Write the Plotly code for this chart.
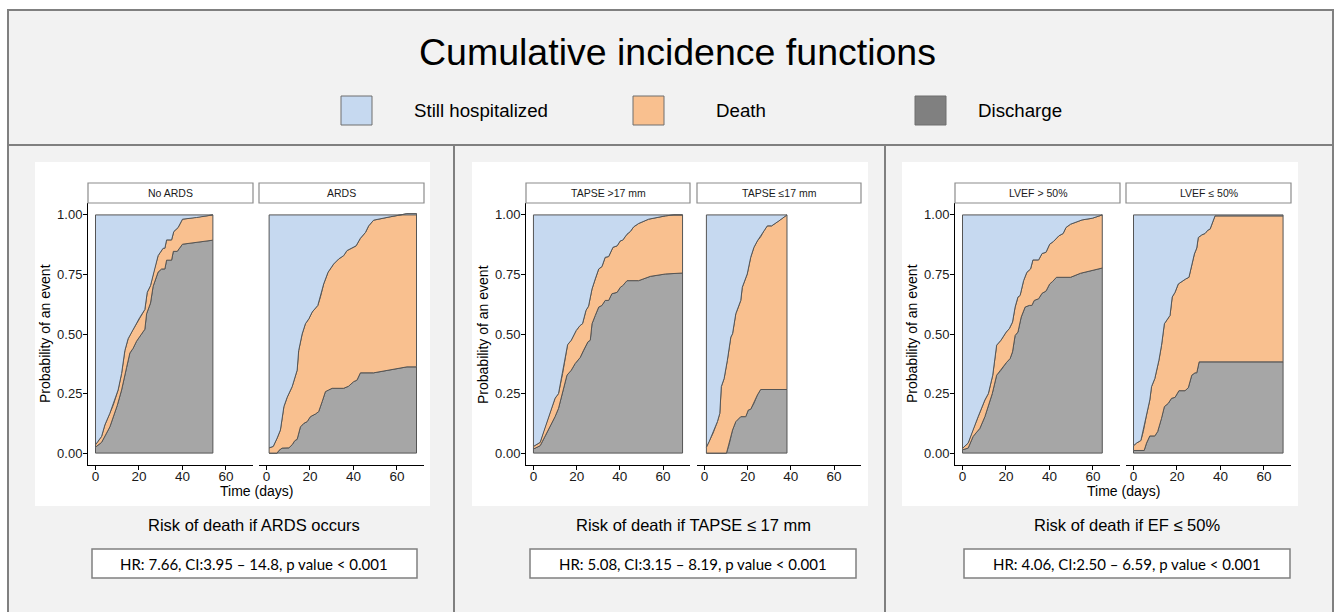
import plotly.graph_objects as go

W, H = 1335, 612

# ---------------- data ----------------
facet_labels = ["No ARDS", "ARDS", "TAPSE >17 mm", "TAPSE \u226417 mm", "LVEF > 50%", "LVEF \u2264 50%"]
x_ticks = [0, 20, 40, 60]
y_ticks = [0, 0.25, 0.5, 0.75, 1.0]
y_tick_text = ["0.00", "0.25", "0.50", "0.75", "1.00"]
legend_names = ["Still hospitalized", "Death", "Discharge"]
panel_titles = ["Risk of death if ARDS occurs", "Risk of death if TAPSE \u2264 17 mm", "Risk of death if EF \u2264 50%"]
hr_texts = ["HR: 7.66, CI:3.95 \u2013 14.8, p value < 0.001",
            "HR: 5.08, CI:3.15 \u2013 8.19, p value < 0.001",
            "HR: 4.06, CI:2.50 \u2013 6.59, p value < 0.001"]

# cumulative discharge (dis) and discharge + death (tot) per facet
noards_dis_t = [0, 2.8, 6.6, 10, 12, 14.3, 15.8, 17.3, 18.9, 20.4, 22.7, 23.5, 25.3, 26.5, 28.8, 30.4, 31.9, 32.7, 35, 35.8, 37.6, 40, 54]
noards_dis_y = [0.025, 0.045, 0.11, 0.2, 0.265, 0.36, 0.42, 0.44, 0.47, 0.49, 0.52, 0.585, 0.63, 0.70, 0.76, 0.773, 0.773, 0.81, 0.81, 0.847, 0.847, 0.877, 0.894]
noards_tot_t = [0, 1.2, 2.8, 4.3, 6.6, 8.1, 10.4, 12, 13.5, 15, 16.6, 18.6, 20.4, 22.7, 23.8, 25.3, 26.9, 28.8, 31.1, 31.9, 32.7, 35, 36, 38, 40, 46.5, 54]
noards_tot_y = [0.035, 0.05, 0.07, 0.118, 0.167, 0.2, 0.265, 0.334, 0.43, 0.48, 0.508, 0.54, 0.57, 0.603, 0.675, 0.703, 0.766, 0.829, 0.86, 0.86, 0.895, 0.895, 0.93, 0.947, 0.982, 0.989, 1.0]

ards_dis_t = [1.2, 4.9, 5.7, 7.2, 10.3, 11.8, 13, 14.1, 15.6, 17.2, 18.7, 20.2, 22.5, 24, 25.6, 27.1, 28.6, 30.2, 35.5, 37.8, 40.1, 41.6, 43.2, 49.3, 64.6, 69]
ards_dis_y = [0, 0, 0.011, 0.021, 0.022, 0.035, 0.052, 0.058, 0.11, 0.125, 0.132, 0.153, 0.164, 0.174, 0.216, 0.258, 0.265, 0.272, 0.272, 0.281, 0.30, 0.306, 0.337, 0.337, 0.362, 0.362]
ards_tot_t = [1.2, 3.1, 4.9, 6.4, 8, 9.5, 11.8, 14.1, 14.8, 16.4, 17.9, 19.5, 21, 23.6, 24.8, 26.3, 28.3, 30.9, 33.2, 35.5, 37, 39.3, 41.2, 43.2, 45.5, 47, 49.3, 56.9, 64.6, 69]
ards_tot_y = [0.022, 0.028, 0.063, 0.097, 0.195, 0.234, 0.279, 0.348, 0.43, 0.5, 0.543, 0.564, 0.592, 0.62, 0.655, 0.71, 0.759, 0.794, 0.815, 0.829, 0.85, 0.861, 0.87, 0.902, 0.926, 0.954, 0.978, 0.992, 1.005, 1.005]

tapse_hi_dis_t = [0, 3.1, 5.4, 7.7, 10, 11.6, 13.5, 15.5, 17.5, 19.3, 21.6, 23.2, 25.2, 26.3, 27.1, 28.6, 30.2, 31.7, 33.2, 34.8, 36.3, 38.7, 40.2, 41.3, 43.3, 48.7, 54.1, 61.1, 69]
tapse_hi_dis_y = [0.017, 0.031, 0.07, 0.111, 0.153, 0.188, 0.25, 0.327, 0.348, 0.376, 0.401, 0.432, 0.467, 0.474, 0.543, 0.578, 0.613, 0.62, 0.641, 0.641, 0.669, 0.675, 0.696, 0.703, 0.724, 0.724, 0.742, 0.752, 0.756]
tapse_hi_tot_t = [0, 3.1, 4.6, 7, 10, 11.6, 13.5, 15.8, 17.5, 19.8, 21.6, 22.7, 24.3, 25.5, 27.1, 28.6, 30.2, 31.7, 33.2, 34.8, 36.8, 38.7, 40.2, 41.3, 43.3, 44.8, 46.4, 48.7, 53.3, 61.1, 65, 69]
tapse_hi_tot_y = [0.028, 0.045, 0.09, 0.153, 0.23, 0.25, 0.334, 0.455, 0.474, 0.515, 0.536, 0.543, 0.599, 0.617, 0.689, 0.731, 0.773, 0.783, 0.822, 0.825, 0.864, 0.87, 0.891, 0.894, 0.919, 0.93, 0.95, 0.964, 0.982, 0.996, 1.0, 1.0]

tapse_lo_dis_t = [0.9, 10.2, 11.4, 13, 14.5, 16.8, 19.1, 20.3, 21.4, 22.9, 24.5, 26, 38.2]
tapse_lo_dis_y = [0, 0, 0.035, 0.097, 0.132, 0.153, 0.153, 0.181, 0.184, 0.209, 0.244, 0.267, 0.267]
tapse_lo_tot_t = [0.9, 2.2, 4, 6, 7.1, 7.8, 9.1, 10.6, 12.2, 13, 14.5, 15.7, 16.8, 17.5, 18.3, 19.8, 21.4, 22.9, 24.5, 26, 27.5, 29.1, 31.1, 34.5, 38.2]
tapse_lo_tot_y = [0.025, 0.049, 0.084, 0.132, 0.167, 0.279, 0.313, 0.39, 0.487, 0.501, 0.585, 0.613, 0.641, 0.696, 0.717, 0.752, 0.822, 0.864, 0.891, 0.908, 0.933, 0.954, 0.954, 0.975, 1.0]

lvef_hi_dis_t = [0, 2.6, 4.9, 8, 10.3, 11.9, 13.7, 15.7, 17.7, 20.1, 21.9, 23, 24.2, 25.5, 27, 28.8, 30.7, 31.9, 33, 35, 36.6, 38.4, 40.1, 41.5, 43.2, 49.7, 54.3, 64.3]
lvef_hi_dis_y = [0.014, 0.021, 0.07, 0.104, 0.153, 0.195, 0.25, 0.327, 0.348, 0.379, 0.397, 0.425, 0.494, 0.508, 0.571, 0.613, 0.62, 0.62, 0.641, 0.648, 0.671, 0.68, 0.71, 0.721, 0.738, 0.738, 0.755, 0.777]
lvef_hi_tot_t = [0, 2.6, 4.2, 7.2, 10.3, 11.9, 13.9, 15.7, 17.7, 20.1, 21.5, 23, 24.2, 25.5, 26.5, 28.1, 29.6, 31.3, 32.4, 35, 36.6, 38.4, 40.1, 41.9, 44.3, 46.3, 47.6, 49.7, 55, 59.7, 64.3]
lvef_hi_tot_y = [0.02, 0.042, 0.084, 0.153, 0.223, 0.25, 0.327, 0.453, 0.474, 0.508, 0.522, 0.55, 0.613, 0.655, 0.662, 0.724, 0.759, 0.773, 0.811, 0.811, 0.838, 0.843, 0.877, 0.889, 0.912, 0.922, 0.947, 0.961, 0.979, 0.986, 1.0]

lvef_lo_dis_t = [0, 4.9, 6, 7.5, 9.8, 11.1, 12.2, 12.9, 14.2, 16, 17.5, 19.1, 20.9, 23.7, 25.2, 26.8, 28.3, 29.1, 30.2, 68.8]
lvef_lo_dis_y = [0.011, 0.011, 0.042, 0.072, 0.072, 0.09, 0.125, 0.146, 0.195, 0.209, 0.23, 0.234, 0.262, 0.262, 0.274, 0.327, 0.337, 0.337, 0.383, 0.383]
lvef_lo_tot_t = [0, 1.4, 3.4, 4.5, 6, 7.5, 8.3, 9.8, 11.7, 12.9, 14.2, 15.2, 16.8, 17.8, 19.1, 20.6, 22.2, 24, 25.5, 26.5, 28, 29.1, 29.8, 31.4, 32.9, 34.2, 35.2, 37.5, 68.8]
lvef_lo_tot_y = [0.031, 0.042, 0.053, 0.09, 0.16, 0.223, 0.279, 0.313, 0.39, 0.453, 0.543, 0.557, 0.578, 0.655, 0.675, 0.71, 0.721, 0.731, 0.738, 0.78, 0.836, 0.861, 0.905, 0.916, 0.922, 0.936, 0.94, 0.996, 0.996]

facets = [
    (noards_dis_t, noards_dis_y, noards_tot_t, noards_tot_y),
    (ards_dis_t, ards_dis_y, ards_tot_t, ards_tot_y),
    (tapse_hi_dis_t, tapse_hi_dis_y, tapse_hi_tot_t, tapse_hi_tot_y),
    (tapse_lo_dis_t, tapse_lo_dis_y, tapse_lo_tot_t, tapse_lo_tot_y),
    (lvef_hi_dis_t, lvef_hi_dis_y, lvef_hi_tot_t, lvef_hi_tot_y),
    (lvef_lo_dis_t, lvef_lo_dis_y, lvef_lo_tot_t, lvef_lo_tot_y),
]

# ---------------- style ----------------
C_HOSP = "#C6D9F0"
C_DEATH = "#F9C08F"
C_DIS = "#A6A6A6"
C_DIS_KEY = "#808080"
C_EDGE = "#555555"
C_FRAME = "#808080"
FONT = "Liberation Sans, Arial, sans-serif"


def px(x):
    return x / W


def py(y):
    return 1 - y / H


x_domains_px = [(88, 253), (259, 424), (526, 690), (697, 861), (955, 1120), (1126, 1291)]
y_domain_px = (203, 465)

fig = go.Figure()

for i, (dt, dy, tt, ty) in enumerate(facets):
    ax = "" if i == 0 else str(i + 1)
    xr, yr = "x" + ax, "y" + ax
    # discharge
    fig.add_trace(go.Scatter(
        x=list(dt) + [dt[-1], dt[0], dt[0]], y=list(dy) + [0, 0, dy[0]],
        fill="toself", fillcolor=C_DIS, mode="lines",
        line=dict(color=C_EDGE, width=1), hoverinfo="skip", showlegend=False,
        xaxis=xr, yaxis=yr))
    # death (stacked on discharge)
    fig.add_trace(go.Scatter(
        x=list(tt) + [dt[-1]] + list(dt[::-1]) + [tt[0]],
        y=list(ty) + [dy[-1]] + list(dy[::-1]) + [ty[0]],
        fill="toself", fillcolor=C_DEATH, mode="lines",
        line=dict(color=C_EDGE, width=1), hoverinfo="skip", showlegend=False,
        xaxis=xr, yaxis=yr))
    # still hospitalized (remaining up to 1)
    fig.add_trace(go.Scatter(
        x=[tt[0], tt[-1]] + list(tt[::-1]) + [tt[0]],
        y=[1, 1] + list(ty[::-1]) + [1],
        fill="toself", fillcolor=C_HOSP, mode="lines",
        line=dict(color=C_EDGE, width=1), hoverinfo="skip", showlegend=False,
        xaxis=xr, yaxis=yr))

layout = dict(
    width=W, height=H, margin=dict(l=0, r=0, t=0, b=0),
    paper_bgcolor="white", plot_bgcolor="rgba(0,0,0,0)",
    showlegend=False, font=dict(family=FONT, color="#1a1a1a"),
)

for i, (x0, x1) in enumerate(x_domains_px):
    key = "" if i == 0 else str(i + 1)
    first = (i % 2 == 0)
    layout["xaxis" + key] = dict(
        domain=[px(x0), px(x1)], range=[-3.45, 72.45], anchor="y" + key,
        showline=True, linecolor="black", linewidth=1, mirror=False,
        ticks="outside", ticklen=4, tickcolor="black", tickwidth=1,
        tickvals=x_ticks, ticktext=[str(v) for v in x_ticks],
        ticklabelstandoff=-5,
        tickfont=dict(family=FONT, size=13.5, color="#1a1a1a"),
        showgrid=False, zeroline=False, fixedrange=True)
    layout["yaxis" + key] = dict(
        domain=[py(y_domain_px[1]), py(y_domain_px[0])], range=[-0.05, 1.05],
        anchor="x" + key,
        showline=first, linecolor="black", linewidth=1,
        ticks="outside" if first else "", ticklen=4, tickcolor="black", tickwidth=1,
        tickvals=y_ticks, ticktext=y_tick_text, showticklabels=first,
        ticklabelstandoff=-2,
        tickfont=dict(family=FONT, size=13, color="#1a1a1a"),
        showgrid=False, zeroline=False, fixedrange=True)

shapes = []
annotations = []

# outer frame & background
shapes.append(dict(type="rect", xref="paper", yref="paper", x0=px(8), x1=px(1333), y0=py(650), y1=py(10),
                   fillcolor="#F2F2F2", line=dict(color=C_FRAME, width=2), layer="below"))
shapes.append(dict(type="line", xref="paper", yref="paper", x0=px(8), x1=px(1333), y0=py(145), y1=py(145),
                   line=dict(color=C_FRAME, width=2), layer="below"))
for xd in (454, 885):
    shapes.append(dict(type="line", xref="paper", yref="paper", x0=px(xd), x1=px(xd), y0=py(145), y1=py(640),
                       line=dict(color=C_FRAME, width=2), layer="below"))
# white plot panels
for (a, b) in [(35, 430), (472, 868), (902, 1298)]:
    shapes.append(dict(type="rect", xref="paper", yref="paper", x0=px(a), x1=px(b), y0=py(506), y1=py(162),
                       fillcolor="white", line=dict(width=0), layer="below"))

# strips
for i, (x0, x1) in enumerate(x_domains_px):
    shapes.append(dict(type="rect", xref="paper", yref="paper", x0=px(x0), x1=px(x1), y0=py(203), y1=py(183),
                       fillcolor="white", line=dict(color="#8c8c8c", width=1.2)))
    annotations.append(dict(text=facet_labels[i], x=px((x0 + x1) / 2), y=py(193), xref="paper", yref="paper",
                            showarrow=False, xanchor="center", yanchor="middle",
                            font=dict(family=FONT, size=10.5, color="#1a1a1a")))

# axis titles
for j, (a, b) in enumerate([(0, 1), (2, 3), (4, 5)]):
    xa = x_domains_px[a][0]
    xb = x_domains_px[b][1]
    annotations.append(dict(text="Probability of an event", x=px(xa - 43), y=py(334), xref="paper", yref="paper",
                            showarrow=False, textangle=-90, xanchor="center", yanchor="middle",
                            font=dict(family=FONT, size=14, color="black")))
    if j != 1:
        annotations.append(dict(text="Time (days)", x=px((xa + xb) / 2), y=py(491), xref="paper", yref="paper",
                                showarrow=False, xanchor="center", yanchor="middle",
                                font=dict(family=FONT, size=14, color="black")))

# title
annotations.append(dict(text="Cumulative incidence functions", x=px(677), y=py(52), xref="paper", yref="paper",
                        showarrow=False, xanchor="center", yanchor="middle",
                        font=dict(family=FONT, size=37.5, color="black")))

# custom legend
legend_colors = [C_HOSP, C_DEATH, C_DIS_KEY]
legend_box_x = [341, 633, 915]
legend_text_x = [414, 716, 978]
for name, col, bx, tx in zip(legend_names, legend_colors, legend_box_x, legend_text_x):
    shapes.append(dict(type="rect", xref="paper", yref="paper", x0=px(bx), x1=px(bx + 31), y0=py(125), y1=py(96),
                       fillcolor=col, line=dict(color="#6e6e6e", width=1)))
    annotations.append(dict(text=name, x=px(tx - 2), y=py(110), xref="paper", yref="paper",
                            showarrow=False, xanchor="left", yanchor="middle",
                            font=dict(family=FONT, size=18.7, color="black")))

# panel captions & HR boxes
hr_boxes = [(92, 417), (530, 856), (964, 1290)]
for (a, b), cap, hr in zip(hr_boxes, panel_titles, hr_texts):
    annotations.append(dict(text=cap, x=px((a + b) / 2), y=py(525), xref="paper", yref="paper",
                            showarrow=False, xanchor="center", yanchor="middle",
                            font=dict(family=FONT, size=16.5, color="black")))
    shapes.append(dict(type="rect", xref="paper", yref="paper", x0=px(a), x1=px(b), y0=py(578), y1=py(549),
                       fillcolor="white", line=dict(color="#808080", width=1.5)))
    annotations.append(dict(text=hr, x=px((a + b) / 2), y=py(564), xref="paper", yref="paper",
                            showarrow=False, xanchor="center", yanchor="middle",
                            font=dict(family="Lato, Carlito, sans-serif", size=15, color="black")))

layout["shapes"] = shapes
layout["annotations"] = annotations
fig.update_layout(**layout)

fig.write_html("out.html", config={"displayModeBar": False},
               post_script="document.body.style.margin='0';document.body.style.padding='0';")
